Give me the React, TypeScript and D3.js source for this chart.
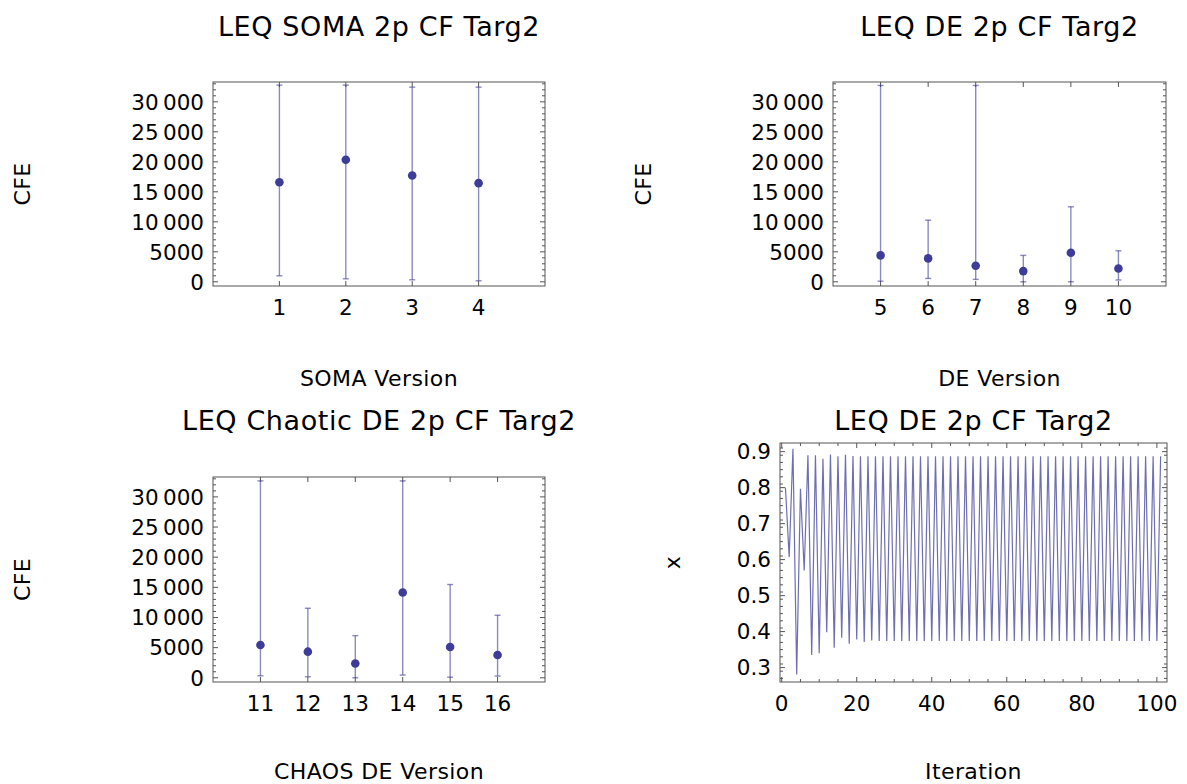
import React from "react";
import * as d3 from "d3";

const width = 1187;
const height = 784;

// SOMA versions
const somaVersions = [1, 2, 3, 4];
const somaMean = [16600, 20330, 17720, 16440];
const somaLow = [1000, 500, 330, 170];
const somaHigh = [32780, 32780, 32440, 32440];

// DE versions
const deVersions = [5, 6, 7, 8, 9, 10];
const deMean = [4400, 3900, 2670, 1780, 4830, 2220];
const deLow = [100, 560, 400, 0, 0, 300];
const deHigh = [32730, 10280, 32730, 4400, 12500, 5170];

// chaos DE versions
const chaosVersions = [11, 12, 13, 14, 15, 16];
const chaosMean = [5440, 4330, 2380, 14140, 5100, 3770];
const chaosLow = [330, 170, 0, 450, 100, 280];
const chaosHigh = [32660, 11530, 6990, 32660, 15470, 10370];

const cfeTicks = [0, 5000, 10000, 15000, 20000, 25000, 30000];

// iterations of the LEQ DE 2p run
const iterX = [
  0.8, 0.607, 0.908, 0.281, 0.797, 0.57, 0.89, 0.335, 0.89, 0.34,
  0.88, 0.398, 0.892, 0.355, 0.887, 0.383, 0.891, 0.366, 0.888, 0.378,
  0.887, 0.371, 0.887, 0.375, 0.887, 0.374, 0.887, 0.374, 0.887, 0.374,
  0.887, 0.374, 0.887, 0.374, 0.887, 0.374, 0.887, 0.374, 0.887, 0.374,
  0.887, 0.374, 0.887, 0.374, 0.887, 0.374, 0.887, 0.374, 0.887, 0.374,
  0.887, 0.374, 0.887, 0.374, 0.887, 0.374, 0.887, 0.374, 0.887, 0.374,
  0.887, 0.374, 0.887, 0.374, 0.887, 0.374, 0.887, 0.374, 0.887, 0.374,
  0.887, 0.374, 0.887, 0.374, 0.887, 0.374, 0.887, 0.374, 0.887, 0.374,
  0.887, 0.374, 0.887, 0.374, 0.887, 0.374, 0.887, 0.374, 0.887, 0.374,
  0.887, 0.374, 0.887, 0.374, 0.887, 0.374, 0.887, 0.374, 0.887, 0.374,
  0.887,
];
const xTicks = [0.3, 0.4, 0.5, 0.6, 0.7, 0.8, 0.9];
const iterTicks = [0, 20, 40, 60, 80, 100];

const font = "DejaVu Sans, Verdana, sans-serif";
const markColor = "#3d3d99";
const frameColor = "#555";
const tickSize = 21.5;

const fmtCfe = (d: number) =>
  d >= 10000 ? d3.format(",")(d).replace(",", "\u2009") : String(d);

type Box = { x0: number; x1: number; y0: number; y1: number };

function Frame({ box, xs, ys, xMajor, xMinor, yMajor, yMinor, xFmt, yFmt }: any) {
  const lines: any[] = [];
  const tick = (key: string, x1: number, y1: number, x2: number, y2: number) =>
    lines.push(<line key={key} x1={x1} y1={y1} x2={x2} y2={y2} stroke={frameColor} strokeWidth={1} />);
  yMajor.forEach((v: number, i: number) => {
    const y = ys(v);
    tick("yl" + i, box.x0, y, box.x0 + 5, y);
    tick("yr" + i, box.x1, y, box.x1 - 5, y);
  });
  yMinor.forEach((v: number, i: number) => {
    const y = ys(v);
    tick("yml" + i, box.x0, y, box.x0 + 3, y);
    tick("ymr" + i, box.x1, y, box.x1 - 3, y);
  });
  xMajor.forEach((v: number, i: number) => {
    const x = xs(v);
    tick("xb" + i, x, box.y1, x, box.y1 - 5);
    tick("xt" + i, x, box.y0, x, box.y0 + 5);
  });
  xMinor.forEach((v: number, i: number) => {
    const x = xs(v);
    tick("xmb" + i, x, box.y1, x, box.y1 - 3);
    tick("xmt" + i, x, box.y0, x, box.y0 + 3);
  });
  return (
    <g>
      <rect x={box.x0} y={box.y0} width={box.x1 - box.x0} height={box.y1 - box.y0}
        fill="none" stroke={frameColor} strokeWidth={1} />
      {lines}
      {yMajor.map((v: number) => (
        <text key={"yt" + v} x={box.x0 - 9} y={ys(v)} dy="0.36em" textAnchor="end"
          fontFamily={font} fontSize={tickSize}>{yFmt(v)}</text>
      ))}
      {xMajor.map((v: number) => (
        <text key={"xt" + v} x={xs(v)} y={box.y1 + 29} textAnchor="middle"
          fontFamily={font} fontSize={tickSize}>{xFmt(v)}</text>
      ))}
    </g>
  );
}

function Labels({ box, title, titleY, xLabel, xLabelY, yLabel, yLabelX }: any) {
  const cx = (box.x0 + box.x1) / 2;
  const cy = (box.y0 + box.y1) / 2;
  return (
    <g fontFamily={font}>
      <text x={cx} y={titleY} textAnchor="middle" fontSize={27} letterSpacing={0.6}>{title}</text>
      <text x={cx} y={xLabelY} textAnchor="middle" fontSize={22} letterSpacing={0.4}>{xLabel}</text>
      <text transform={`translate(${yLabelX},${cy}) rotate(-90)`} textAnchor="middle"
        dy="0.35em" fontSize={22} letterSpacing={0.4}>{yLabel}</text>
    </g>
  );
}

function ErrorPanel({ box, versions, mean, low, high, title, titleY, xLabel, xLabelY, yLabelX }: any) {
  const xs = d3.scaleLinear()
    .domain([versions[0] - 1, versions[versions.length - 1] + 1])
    .range([box.x0, box.x1]);
  const ys = d3.scaleLinear().domain([-700, 33300]).range([box.y1, box.y0]);
  const minor = d3.range(0, 33001, 1000).filter((v) => v % 5000 !== 0);
  return (
    <g>
      <Frame box={box} xs={xs} ys={ys} xMajor={versions} xMinor={[]}
        yMajor={cfeTicks} yMinor={minor} xFmt={String} yFmt={fmtCfe} />
      {versions.map((v: number, i: number) => {
        const x = xs(v);
        return (
          <g key={v} stroke={markColor} strokeOpacity={0.6} strokeWidth={1.4}>
            <line x1={x} x2={x} y1={ys(low[i])} y2={ys(high[i])} />
            <line x1={x - 3} x2={x + 3} y1={ys(low[i])} y2={ys(low[i])} />
            <line x1={x - 3} x2={x + 3} y1={ys(high[i])} y2={ys(high[i])} />
            <circle cx={x} cy={ys(mean[i])} r={4.3} fill={markColor} stroke="none" />
          </g>
        );
      })}
      <Labels box={box} title={title} titleY={titleY} xLabel={xLabel} xLabelY={xLabelY}
        yLabel="CFE" yLabelX={yLabelX} />
    </g>
  );
}

function LinePanel({ box }: { box: Box }) {
  const xs = d3.scaleLinear().domain([-0.45, 102.7]).range([box.x0, box.x1]);
  const ys = d3.scaleLinear().domain([0.26, 0.924]).range([box.y1, box.y0]);
  const line = d3.line<number>().x((_, i) => xs(i + 1)).y((d) => ys(d));
  const xMinor = d3.range(5, 101, 5).filter((v) => v % 20 !== 0);
  const yMinor = d3.range(0.27, 0.925, 0.02).filter((v) => Math.abs(v * 10 - Math.round(v * 10)) > 0.01);
  return (
    <g>
      <Frame box={box} xs={xs} ys={ys} xMajor={iterTicks} xMinor={xMinor}
        yMajor={xTicks} yMinor={yMinor} xFmt={String} yFmt={d3.format(".1f")} />
      <path d={line(iterX) || ""} fill="none" stroke={markColor} strokeOpacity={0.75} strokeWidth={1.2} />
      <Labels box={box} title="LEQ DE 2p CF Targ2" titleY={430} xLabel="Iteration" xLabelY={779}
        yLabel="x" yLabelX={672} />
    </g>
  );
}

export default function App() {
  return (
    <svg width={width} height={height} style={{ position: "absolute", left: 0, top: 0, background: "#fff" }}>
      <ErrorPanel box={{ x0: 213, x1: 545, y0: 82, y1: 286 }} versions={somaVersions}
        mean={somaMean} low={somaLow} high={somaHigh}
        title="LEQ SOMA 2p CF Targ2" titleY={36} xLabel="SOMA Version" xLabelY={386} yLabelX={22} />
      <ErrorPanel box={{ x0: 833, x1: 1166, y0: 82, y1: 286 }} versions={deVersions}
        mean={deMean} low={deLow} high={deHigh}
        title="LEQ DE 2p CF Targ2" titleY={36} xLabel="DE Version" xLabelY={386} yLabelX={643} />
      <ErrorPanel box={{ x0: 213, x1: 545, y0: 477, y1: 682 }} versions={chaosVersions}
        mean={chaosMean} low={chaosLow} high={chaosHigh}
        title="LEQ Chaotic DE 2p CF Targ2" titleY={430} xLabel="CHAOS DE Version" xLabelY={779}
        yLabelX={22} />
      <LinePanel box={{ x0: 780, x1: 1167, y0: 443, y1: 682 }} />
    </svg>
  );
}
